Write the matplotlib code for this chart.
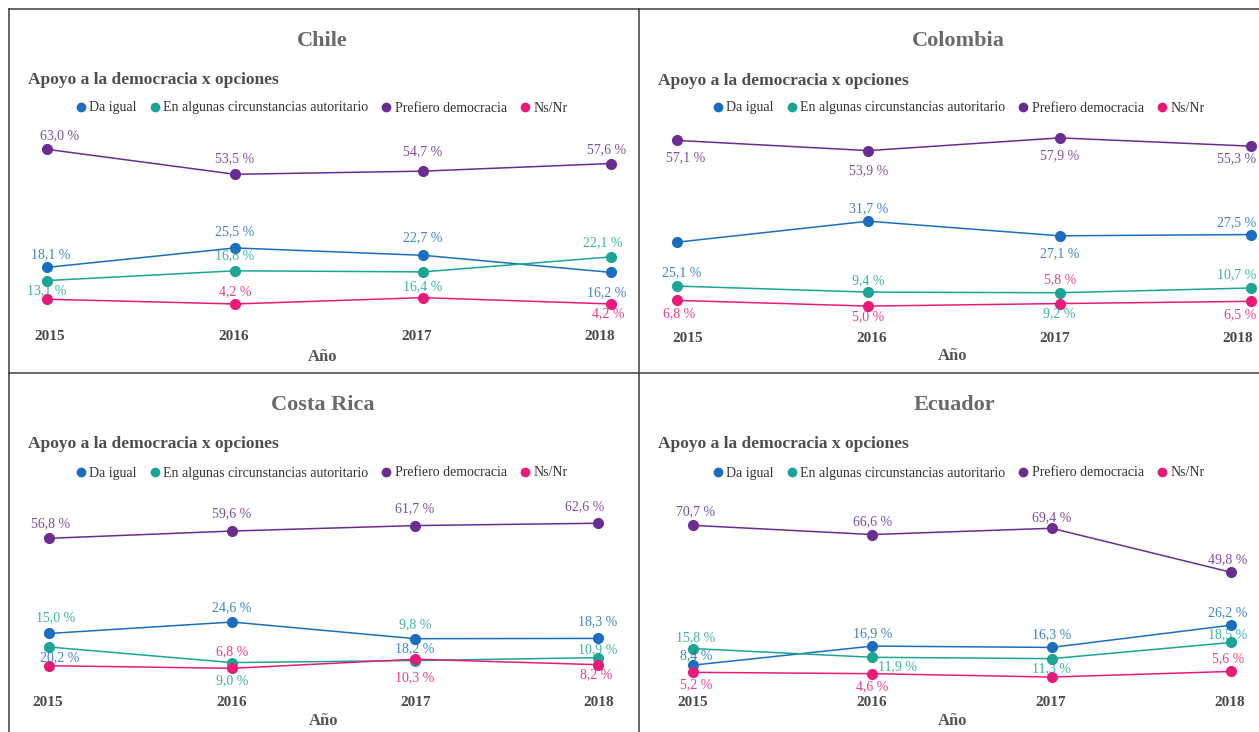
import matplotlib
matplotlib.use("Agg")
import matplotlib.pyplot as plt
from matplotlib.lines import Line2D

plt.rcParams["font.family"] = ["Liberation Serif", "DejaVu Serif"]

# ---------------------------------------------------------------- data
years = [2015, 2016, 2017, 2018]
series_names = ["Da igual", "En algunas circunstancias autoritario",
                "Prefiero democracia", "Ns/Nr"]
countries = ["Chile", "Colombia", "Costa Rica", "Ecuador"]

chile_da_igual = [18.1, 25.5, 22.7, 16.2]
chile_autoritario = [13.1, 16.8, 16.4, 22.1]
chile_democracia = [63.0, 53.5, 54.7, 57.6]
chile_nsnr = [6.0, 4.2, 6.6, 4.2]

colombia_da_igual = [25.1, 31.7, 27.1, 27.5]
colombia_autoritario = [11.3, 9.4, 9.2, 10.7]
colombia_democracia = [57.1, 53.9, 57.9, 55.3]
colombia_nsnr = [6.8, 5.0, 5.8, 6.5]

costarica_da_igual = [20.2, 24.6, 18.2, 18.3]
costarica_autoritario = [15.0, 9.0, 9.8, 10.9]
costarica_democracia = [56.8, 59.6, 61.7, 62.6]
costarica_nsnr = [7.8, 6.8, 10.3, 8.2]

ecuador_da_igual = [8.4, 16.9, 16.3, 26.2]
ecuador_autoritario = [15.8, 11.9, 11.3, 18.5]
ecuador_democracia = [70.7, 66.6, 69.4, 49.8]
ecuador_nsnr = [5.2, 4.6, 3.1, 5.6]

country_series = {
    "Chile": [chile_da_igual, chile_autoritario, chile_democracia, chile_nsnr],
    "Colombia": [colombia_da_igual, colombia_autoritario, colombia_democracia, colombia_nsnr],
    "Costa Rica": [costarica_da_igual, costarica_autoritario, costarica_democracia, costarica_nsnr],
    "Ecuador": [ecuador_da_igual, ecuador_autoritario, ecuador_democracia, ecuador_nsnr],
}

# ---------------------------------------------------------------- style
colors = ["#1b6ebf", "#1aa595", "#6b2c91", "#ea1a78"]
W, H = 1259, 732

# panel geometry in pixels (x of first/last year, y of zero, pixels per unit)
layout = {
    "Chile": dict(x0=47, x1=611, y0=315, ppu=2.63, ticks=(50, 600), tick_y=336,
                  axis_lbl=(323, 357), title=(322, 41), subtitle=(28, 80), legend=(322, 108)),
    "Colombia": dict(x0=677, x1=1251, y0=322, ppu=3.18, ticks=(688, 1238), tick_y=339,
                     axis_lbl=(953, 356), title=(958, 41), subtitle=(658, 81), legend=(959, 108)),
    "Costa Rica": dict(x0=49, x1=598, y0=686, ppu=2.6, ticks=(48, 599), tick_y=702,
                       axis_lbl=(324, 721), title=(323, 405), subtitle=(28, 444), legend=(322, 473)),
    "Ecuador": dict(x0=693, x1=1231, y0=684, ppu=2.244, ticks=(693, 1230), tick_y=702,
                    axis_lbl=(953, 721), title=(954, 405), subtitle=(658, 444), legend=(959, 473)),
}

# value-label offsets in pixels (dx, dy); None hides the label
label_offsets = {
    "Chile": [
        [(4, -13), (0, -16), (0, -18), (-4, 20)],
        [(0, 10), (0, -15), (0, 15), (-8, -14)],
        [(13, -14), (0, -16), (0, -19), (-4, -14)],
        [None, (0, -12), None, (-3, 10)],
    ],
    "Colombia": [
        [(5, 31), (0, -13), (0, 18), (-14, -12)],
        [None, (0, -11), (0, 21), (-14, -13)],
        [(9, 17), (0, 20), (0, 18), (-14, 13)],
        [(2, 13), (0, 11), (0, -24), (-11, 13)],
    ],
    "Costa Rica": [
        [(11, 24), (0, -14), (0, 10), (0, -17)],
        [(7, -29), (0, 18), (0, -36), (0, -8)],
        [(2, -15), (0, -17), (0, -17), (-13, -17)],
        [None, (0, -17), (0, 18), (-2, 10)],
    ],
    "Ecuador": [
        [(3, -9), (0, -12), (0, -13), (-3, -13)],
        [(3, -11), (25, 9), (0, 10), (-3, -8)],
        [(3, -14), (0, -13), (0, -11), (-3, -13)],
        [(3, 12), (0, 13), None, (-3, -13)],
    ],
}

YMAX = 75

fig = plt.figure(figsize=(W / 100, H / 100), dpi=100)
fig.patch.set_facecolor("white")


def fx(px):
    return px / W


def fy(py):
    return 1 - py / H


for country in countries:
    lay = layout[country]
    left = fx(lay["x0"])
    width = (lay["x1"] - lay["x0"]) / W
    bottom = fy(lay["y0"])
    height = lay["ppu"] * YMAX / H
    ax = fig.add_axes([left, bottom, width, height])
    ax.set_xlim(2015, 2018)
    ax.set_ylim(0, YMAX)
    ax.axis("off")

    for vals, col, offs in zip(country_series[country], colors, label_offsets[country]):
        ax.plot(years, vals, color=col, lw=1.1, marker="o", ms=7,
                clip_on=False, zorder=3)
        for yr, v, off in zip(years, vals, offs):
            if off is None:
                continue
            dx, dy = off
            txt = f"{v:.1f}".replace(".", ",") + " %"
            ax.annotate(txt, (yr, v), xytext=(dx * 0.72, -dy * 0.72),
                        textcoords="offset points", ha="center", va="center",
                        fontsize=10, color=col, alpha=0.85, zorder=4,
                        annotation_clip=False)

    # year labels
    tx0, tx1 = lay["ticks"]
    for i, yr in enumerate(years):
        x = tx0 + (tx1 - tx0) * i / (len(years) - 1)
        fig.text(fx(x), fy(lay["tick_y"]), str(yr), ha="center", va="center",
                 fontsize=11, fontweight="bold", color="#4a4a4a")
    fig.text(fx(lay["axis_lbl"][0]), fy(lay["axis_lbl"][1]), "Año",
             ha="center", va="center", fontsize=12, fontweight="bold", color="#555555")

    # titles
    fig.text(fx(lay["title"][0]), fy(lay["title"][1]), country, ha="center",
             va="center", fontsize=16, fontweight="bold", color="#6a6a6a")
    fig.text(fx(lay["subtitle"][0]), fy(lay["subtitle"][1]),
             "Apoyo a la democracia x opciones", ha="left", va="center",
             fontsize=12.5, fontweight="bold", color="#4d4d4d")

    handles = [Line2D([], [], marker="o", linestyle="none", color=c, markersize=6)
               for c in colors]
    leg = fig.legend(handles, series_names, loc="center",
                     bbox_to_anchor=(fx(lay["legend"][0]), fy(lay["legend"][1])),
                     ncol=4, frameon=False, fontsize=10, handlelength=0.6,
                     handletextpad=0.3, columnspacing=1.0, borderpad=0,
                     borderaxespad=0)
    for t in leg.get_texts():
        t.set_color("#333333")

# panel frame lines
frame_kw = dict(color="#3c3c3c", lw=1.1, transform=fig.transFigure)
fig.add_artist(Line2D([fx(9), fx(W)], [fy(9), fy(9)], **frame_kw))
fig.add_artist(Line2D([fx(9), fx(W)], [fy(373), fy(373)], **frame_kw))
fig.add_artist(Line2D([fx(9), fx(9)], [fy(9), fy(H)], **frame_kw))
fig.add_artist(Line2D([fx(639), fx(639)], [fy(9), fy(H)], **frame_kw))

fig.savefig("out.png", dpi=100, facecolor="white")
